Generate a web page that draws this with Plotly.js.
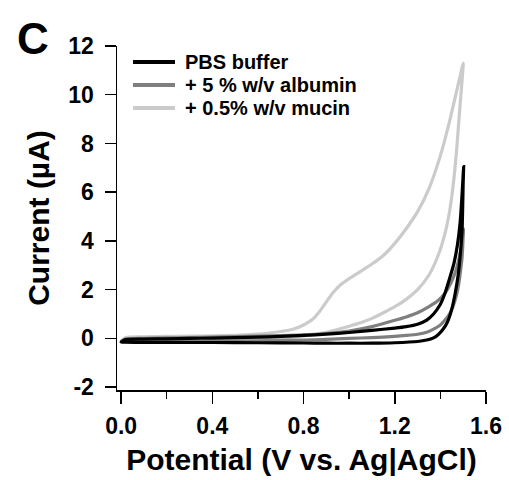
<!DOCTYPE html>
<html>
<head>
<meta charset="utf-8">
<script src="https://cdn.plot.ly/plotly-3.0.1.min.js"></script>
<style>
html,body{margin:0;padding:0;background:#fff;}
#chart{width:509px;height:480px;}
</style>
</head>
<body>
<div id="chart"></div>
<script>
// Series names
const seriesNames = ["PBS buffer", "+ 5 % w/v albumin", "+ 0.5% w/v mucin"];
const seriesColors = ["#000000", "#7f7f7f", "#cbcbcb"];

// PBS buffer (forward then reverse scan)
const pbsV = [0.0, 0.02, 0.1, 0.2, 0.3, 0.4, 0.5, 0.6, 0.7, 0.8, 0.9, 1.0, 1.1, 1.2, 1.25, 1.3, 1.34, 1.37, 1.4, 1.42, 1.44, 1.46, 1.475, 1.487, 1.495, 1.502,
              1.5, 1.495, 1.487, 1.478, 1.465, 1.45, 1.43, 1.41, 1.39, 1.37, 1.34, 1.3, 1.2, 1.1, 1.0, 0.9, 0.8, 0.6, 0.4, 0.2, 0.1, 0.02, 0.0];
const pbsI = [-0.15, -0.05, -0.03, -0.02, 0.0, 0.01, 0.03, 0.05, 0.08, 0.12, 0.17, 0.24, 0.33, 0.42, 0.48, 0.58, 0.75, 1.0, 1.4, 1.85, 2.45, 3.1, 3.85, 4.8, 5.9, 7.05,
              6.4, 4.4, 3.4, 2.6, 1.85, 1.2, 0.65, 0.35, 0.15, 0.02, -0.07, -0.13, -0.18, -0.2, -0.2, -0.2, -0.19, -0.18, -0.17, -0.17, -0.17, -0.16, -0.15];

// + 5 % w/v albumin
const albV = [0.0, 0.02, 0.1, 0.2, 0.3, 0.4, 0.5, 0.6, 0.7, 0.8, 0.9, 1.0, 1.1, 1.2, 1.25, 1.3, 1.35, 1.39, 1.42, 1.445, 1.465, 1.48, 1.492, 1.502,
              1.5, 1.495, 1.488, 1.48, 1.47, 1.455, 1.44, 1.42, 1.4, 1.37, 1.34, 1.3, 1.25, 1.2, 1.1, 1.0, 0.9, 0.8, 0.6, 0.4, 0.2, 0.1, 0.02, 0.0];
const albI = [-0.12, -0.03, 0.0, 0.02, 0.03, 0.05, 0.07, 0.09, 0.11, 0.14, 0.2, 0.3, 0.48, 0.74, 0.88, 1.05, 1.3, 1.55, 1.85, 2.25, 2.7, 3.2, 3.8, 4.5,
              4.2, 3.3, 2.75, 2.2, 1.75, 1.3, 1.0, 0.75, 0.55, 0.38, 0.25, 0.17, 0.12, 0.08, 0.03, 0.0, -0.04, -0.07, -0.1, -0.12, -0.12, -0.12, -0.12, -0.12];

// + 0.5% w/v mucin
const mucV = [0.0, 0.02, 0.1, 0.2, 0.3, 0.4, 0.5, 0.55, 0.6, 0.65, 0.7, 0.75, 0.8, 0.84, 0.87, 0.9, 0.93, 0.96, 1.0, 1.05, 1.1, 1.15, 1.2, 1.25, 1.3, 1.35, 1.4, 1.44, 1.47, 1.49, 1.5,
              1.5, 1.49, 1.48, 1.47, 1.455, 1.44, 1.42, 1.39, 1.35, 1.3, 1.25, 1.2, 1.15, 1.1, 1.05, 1.0, 0.9, 0.8, 0.7, 0.6, 0.5, 0.4, 0.3, 0.2, 0.1, 0.02, 0.0];
const mucI = [-0.12, 0.03, 0.06, 0.08, 0.09, 0.1, 0.12, 0.14, 0.17, 0.22, 0.28, 0.36, 0.55, 0.78, 1.1, 1.5, 1.88, 2.18, 2.45, 2.75, 3.05, 3.4, 3.9, 4.5, 5.2, 6.15, 7.5, 8.9, 10.1, 10.9, 11.3,
              11.2, 10.0, 8.8, 7.6, 6.2, 5.2, 4.3, 3.4, 2.6, 2.0, 1.6, 1.3, 1.05, 0.82, 0.64, 0.5, 0.25, 0.1, 0.0, -0.05, -0.08, -0.1, -0.12, -0.14, -0.15, -0.15, -0.14];

// Axis ticks
const xTickVals = [0.0, 0.4, 0.8, 1.2, 1.6];
const xTickText = ["0.0", "0.4", "0.8", "1.2", "1.6"];
const yTickVals = [-2, 0, 2, 4, 6, 8, 10, 12];
const yTickText = ["-2", "0", "2", "4", "6", "8", "10", "12"];

const FONT = "Liberation Sans, Arial, Helvetica, sans-serif";

const xs = [pbsV, albV, mucV];
const ys = [pbsI, albI, mucI];
const traces = [];
// draw light first so darker lines sit on top
[2, 1, 0].forEach(function (k) {
  traces.push({
    x: xs[k], y: ys[k], type: "scatter", mode: "lines", name: seriesNames[k],
    line: {color: seriesColors[k], width: 3.2, shape: "spline", smoothing: 0.6},
    showlegend: false
  });
});

// Legend drawn as key lines + labels (paper coordinates)
const legendRowY = [0.9535, 0.8866, 0.8198];
const shapes = [];
const annotations = [];
seriesNames.forEach(function (name, k) {
  shapes.push({type: "line", xref: "paper", yref: "paper", x0: 0.0434, x1: 0.1572,
               y0: legendRowY[k], y1: legendRowY[k], line: {color: seriesColors[k], width: 4}});
  annotations.push({text: name, xref: "paper", yref: "paper", x: 0.178, y: legendRowY[k],
                    xanchor: "left", yanchor: "middle", showarrow: false,
                    font: {family: FONT, size: 20, color: "#000", weight: "bold"}});
});
annotations.push({
  text: "C", xref: "paper", yref: "paper", x: -0.228, y: 1.022,
  xanchor: "center", yanchor: "middle", showarrow: false,
  font: {family: FONT, size: 44, color: "#000", weight: "bold"}
});

const axisCommon = {
  showgrid: false, zeroline: false, showline: true, linecolor: "#000", linewidth: 1.5,
  ticks: "outside", tickcolor: "#000", tickwidth: 1.5,
  tickfont: {family: FONT, size: 23, color: "#000", weight: "bold"},
  fixedrange: true
};

const layout = {
  width: 509, height: 480,
  margin: {l: 117, r: 23, t: 46, b: 90},
  paper_bgcolor: "#fff", plot_bgcolor: "#fff",
  showlegend: false,
  xaxis: Object.assign({}, axisCommon, {
    range: [-0.018, 1.6], tickmode: "array", tickvals: xTickVals, ticktext: xTickText,
    ticklen: 12, ticklabelstandoff: 3,
    minor: {dtick: 0.2, tick0: 0, ticks: "outside", ticklen: 7, tickwidth: 1.5, tickcolor: "#000", showgrid: false},
    title: {text: "Potential (V vs. Ag|AgCl)", font: {family: FONT, size: 30, color: "#000", weight: "bold"}, standoff: 11}
  }),
  yaxis: Object.assign({}, axisCommon, {
    range: [-2.12, 12], tickmode: "array", tickvals: yTickVals, ticktext: yTickText,
    ticklen: 11, ticklabelstandoff: 6,
    title: {text: "Current (µA)", font: {family: FONT, size: 30, color: "#000", weight: "bold"}, standoff: 10}
  }),
  shapes: shapes,
  annotations: annotations
};

Plotly.newPlot("chart", traces, layout, {displayModeBar: false, staticPlot: true});
</script>
</body>
</html>
